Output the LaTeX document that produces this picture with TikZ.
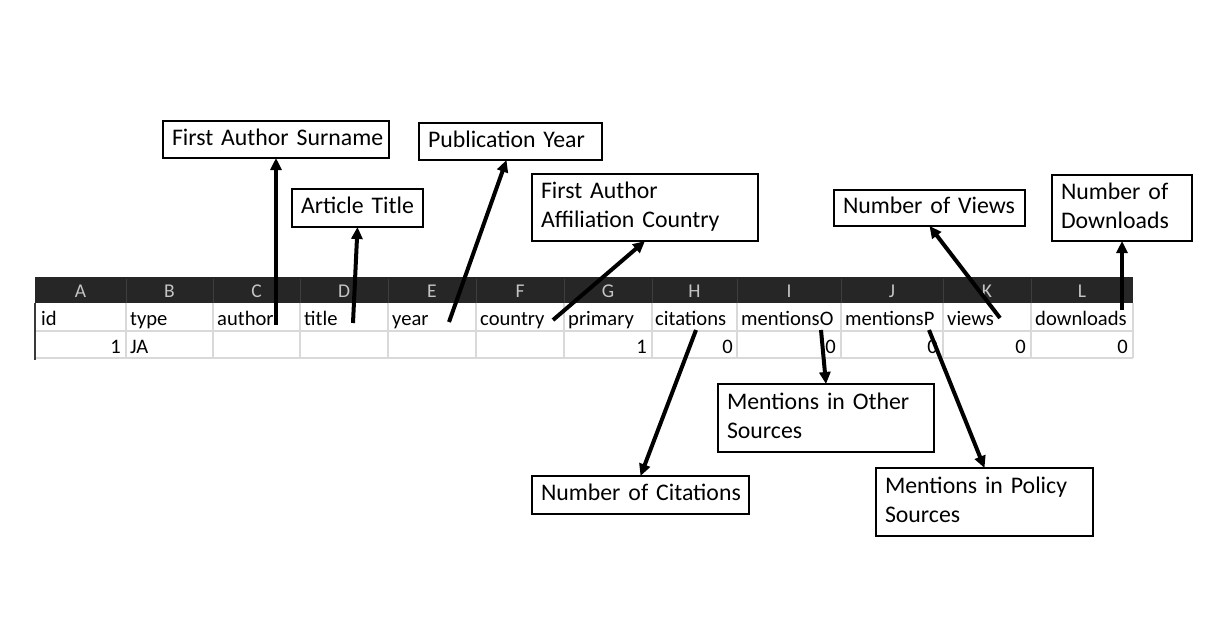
\documentclass[tikz,border=0pt]{standalone}
\usepackage{fontspec}
\setmainfont{Carlito}
\usetikzlibrary{arrows.meta}
\definecolor{hdr}{HTML}{262626}
\definecolor{hdrtxt}{HTML}{C4C4C4}
\definecolor{hdrsep}{HTML}{3E3E3E}
\definecolor{gridc}{HTML}{D9D9D9}
\definecolor{edgec}{HTML}{3A3A3A}
\begin{document}
\begin{tikzpicture}[x=1pt,y=-1pt,
  lbl/.style={draw=black, line width=1.3pt, anchor=north west, align=left,
    inner xsep=9pt, inner ysep=0pt, outer sep=0pt,
    font=\fontsize{23.8}{29}\selectfont},
  cellL/.style={inner sep=0pt, anchor=base west, font=\fontsize{20.6}{24}\selectfont},
  cellR/.style={inner sep=0pt, anchor=base east, font=\fontsize{20.6}{24}\selectfont},
  colhdr/.style={inner sep=0pt, anchor=base, text=hdrtxt, font=\fontsize{19.5}{22}\selectfont},
  ptr/.style={line width=4pt, draw=black, -{Triangle[length=12pt,width=11pt]}}]
\useasboundingbox[fill=white] (0,0) rectangle (1228,621);

% spreadsheet
\fill[hdr] (35,277) rectangle (1133,303);
\foreach \x in {126,213,300,388,476,564,652,737,841,943,1031}
  \draw[hdrsep, line width=1pt] (\x,279) -- (\x,303);
\foreach \x in {126,213,300,388,476,564,652,737,841,943,1031,1133}
  \draw[gridc, line width=1.3pt] (\x,303) -- (\x,358);
\draw[gridc, line width=1.3pt] (35,331) -- (1133,331);
\draw[gridc, line width=1.3pt] (35,358) -- (1133,358);
\draw[edgec, line width=2pt] (35,303) -- (35,360);

% column letters
\foreach \c/\x in {A/80.5,B/169.5,C/256.5,D/344,E/432,F/520,G/608,H/694.5,I/789,J/892,K/987,L/1082}
  \node[colhdr] (col\c) at (\x,297.5) {\c};

% header row
\node[cellL] (hA) at (41,325) {id};
\node[cellL] (hB) at (130,325) {type};
\node[cellL] (hC) at (217,325) {author};
\node[cellL] (hD) at (304,325) {title};
\node[cellL] (hE) at (392,325) {year};
\node[cellL] (hF) at (480,325) {country};
\node[cellL] (hG) at (568,325) {primary};
\node[cellL] (hH) at (655,325) {citations};
\node[cellL] (hI) at (741,325) {mentionsO};
\node[cellL] (hJ) at (845,325) {mentionsP};
\node[cellL] (hK) at (947,325) {views};
\node[cellL] (hL) at (1035,325) {downloads};

% data row
\node[cellR] (dA) at (121,353) {1};
\node[cellL] (dB) at (130,353) {JA};
\node[cellR] (dG) at (647,353) {1};
\node[cellR] (dH) at (733,353) {0};
\node[cellR] (dI) at (836,353) {0};
\node[cellR] (dJ) at (938,353) {0};
\node[cellR] (dK) at (1026,353) {0};
\node[cellR] (dL) at (1128,353) {0};

% label boxes
\node[lbl, text width=208pt, minimum height=37pt] (surname) at (163,121) {\strut\mbox{First Author Surname}};
\node[lbl, text width=165pt, minimum height=37pt] (pubyear) at (419,123) {\strut\mbox{Publication Year}};
\node[lbl, text width=113pt, minimum height=38pt] (title) at (292,189) {\strut\mbox{Article Title}};
\node[lbl, text width=208pt, minimum height=67pt] (affil) at (532,174) {\strut\mbox{First Author}\\\strut\mbox{Affiliation Country}};
\node[lbl, text width=173pt, minimum height=36pt] (views) at (834,190) {\strut\mbox{Number of Views}};
\node[lbl, text width=122pt, minimum height=66pt] (downloads) at (1052,175) {\strut\mbox{Number of}\\\strut\mbox{Downloads}};
\node[lbl, text width=198pt, minimum height=68pt] (other) at (718,384) {\strut\mbox{Mentions in Other}\\\strut\mbox{Sources}};
\node[lbl, text width=199pt, minimum height=38pt] (citations) at (532,476) {\strut\mbox{Number of Citations}};
\node[lbl, text width=199pt, minimum height=68pt] (policy) at (876,468) {\strut\mbox{Mentions in Policy}\\\strut\mbox{Sources}};

% arrow start points
\coordinate (pAuthor) at (276,325);
\coordinate (pTitle) at (353,323);
\coordinate (pYear) at (449,322);
\coordinate (pCountry) at (553,320);
\coordinate (pCit) at (696,330);
\coordinate (pMO) at (821,330);
\coordinate (pMP) at (929,330);
\coordinate (pViews) at (1000,318);
\coordinate (pDown) at (1122,310);

% arrows
\draw[ptr] (pAuthor) -- (surname.south);
\draw[ptr] (pTitle) -- (title.south);
\draw[ptr] (pYear) -- ([xshift=-4pt]pubyear.south);
\draw[ptr] (pCountry) -- (affil.south);
\draw[ptr] (pCit) -- (citations.north);
\draw[ptr] (pMO) -- (other.north);
\draw[ptr] (pMP) -- (policy.north);
\draw[ptr] (pViews) -- (views.south);
\draw[ptr] (pDown) -- (downloads.south);
\end{tikzpicture}
\end{document}
